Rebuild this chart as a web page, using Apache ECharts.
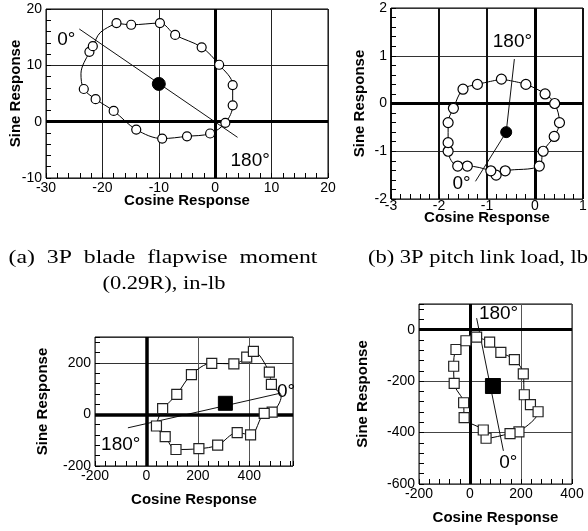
<!DOCTYPE html>
<html>
<head>
<meta charset="utf-8">
<script src="https://cdn.jsdelivr.net/npm/echarts/dist/echarts.min.js"></script>
<style>
  html, body { margin: 0; padding: 0; background: #fff; }
  #c { width: 588px; height: 531px; }
</style>
</head>
<body>
<div id="c"></div>
<script>
// Harmonic loops: each entry is [cosine, sine]; an entry with a third field 0
// only shapes the faired curve and carries no marker.

// (a) 3P blade flapwise moment (0.29R), in-lb
const flapLoop = [
  [-17.5, 17.5], [-14.9, 17.2], [-9.8, 17.5], [-7.1, 15.4], [-2.4, 13.2], [0.7, 10.1],
  [3.1, 6.5], [3.1, 2.9], [1.8, -0.2], [-0.9, -2.1], [-5.0, -2.6], [-9.4, -3.0],
  [-14.0, -1.4], [-18.0, 1.9], [-21.2, 4.0], [-23.3, 5.8], [-23.8, 8.5, 0],
  [-22.3, 12.4], [-21.7, 13.4], [-20.4, 15.8, 0]
];
const flapMean = [-10.0, 6.7];
const flapPhase = [[-24.1, 16.45], [3.96, -2.78]];
const flapXTicks = [-30, -20, -10, 0, 10, 20];
const flapYTicks = [-10, 0, 10, 20];

// (b) 3P pitch link load, lb
const pitchLoop = [
  [-0.70, 0.51], [-0.19, 0.40], [0.21, 0.20], [0.41, 0.0], [0.51, -0.40], [0.40, -0.69],
  [0.17, -1.0], [0.09, -1.31], [-0.62, -1.41], [-0.81, -1.50], [-0.92, -1.41],
  [-1.41, -1.31], [-1.61, -1.31], [-1.81, -1.0], [-1.81, -0.82], [-1.81, -0.40],
  [-1.70, -0.10], [-1.50, 0.30], [-1.20, 0.40]
];
const pitchMean = [-0.60, -0.60];
const pitchPhase = [[-0.43, 0.93], [-0.60, -0.60], [-1.24, -1.63]];
const pitchXTicks = [-3, -2, -1, 0, 1];
const pitchYTicks = [-2, -1, 0, 1, 2];

// (c) lower left loop
const lowerLeftLoop = [
  [63, 22], [118, 78], [175, 154], [254, 198], [340, 196], [390, 222], [416, 244],
  [478, 164], [486, 116], [524, 70, 0], [489, 9], [458, 4], [405, -79], [353, -71],
  [277, -119], [204, -133], [115, -136], [73, -86], [39, -45]
];
const lowerLeftMean = [307, 43];
const lowerLeftPhase = [[-72, -52], [520, 82]];
const lowerLeftXTicks = [-200, 0, 200, 400];
const lowerLeftYTicks = [-200, 0, 200];

// (d) lower right loop
const lowerRightLoop = [
  [26, -29], [77, -48], [121, -88], [174, -116], [209, -172], [213, -253], [237, -291],
  [267, -319], [192, -397], [157, -404], [63, -422], [52, -390], [-23, -342],
  [-25, -284], [-62, -209], [-64, -142], [-55, -77], [-16, -43]
];
const lowerRightMean = [90, -219];
const lowerRightPhase = [[26, 45], [131, -471]];
const lowerRightXTicks = [-200, 0, 200, 400];
const lowerRightYTicks = [-600, -400, -200, 0];

const SANS = '"Liberation Sans", Arial, sans-serif';
const SERIF = '"Liberation Serif", "Times New Roman", serif';

const panels = [
  {
    grid: { left: 46, top: 9, width: 282, height: 169 },
    x: { min: -30, max: 20, step: 10, minor: 2, ticks: flapXTicks, gap: 15, margin: 3 },
    y: { min: -10, max: 20, step: 10, minor: 2, ticks: flapYTicks, gap: 23, margin: 4 },
    xSplit: { color: '#222', width: 1 }, ySplit: { color: '#222', width: 1 },
    zeroWidth: 3,
    loop: flapLoop, mean: flapMean, phase: flapPhase,
    marker: 'circle', markerSize: 9, meanSize: 13,
    tags: [{ text: '0°', at: [-26.4, 14.5] }, { text: '180°', at: [6.2, -7.0] }]
  },
  {
    grid: { left: 391, top: 8, width: 192, height: 191 },
    x: { min: -3, max: 1, step: 1, minor: 0.2, ticks: pitchXTicks, gap: 11, margin: 0 },
    y: { min: -2, max: 2, step: 1, minor: 0.2, ticks: pitchYTicks, gap: 24, margin: 4 },
    xSplit: { color: '#111', width: 2 }, ySplit: { color: '#333', width: 1 },
    zeroWidth: 3,
    loop: pitchLoop, mean: pitchMean, phase: pitchPhase,
    marker: 'circle', markerSize: 10, meanSize: 11,
    tags: [{ text: '180°', at: [-0.47, 1.29] }, { text: '0°', at: [-1.53, -1.69] }]
  },
  {
    grid: { left: 95, top: 337, width: 198, height: 129 },
    x: { min: -200, max: 570, step: 200, minor: 40, ticks: lowerLeftXTicks, gap: 26, margin: 3 },
    y: { min: -200, max: 300, step: 200, minor: 40, ticks: lowerLeftYTicks, gap: 45, margin: 4 },
    xSplit: { color: '#555', width: 1 }, ySplit: { color: '#333', width: 1 },
    zeroWidth: 3.5,
    loop: lowerLeftLoop, mean: lowerLeftMean, phase: lowerLeftPhase,
    marker: 'rect', markerSize: 10, meanSize: 14,
    tags: [{ text: '180°', at: [-100, -116] }, { text: '0°', at: [543, 89] }]
  },
  {
    grid: { left: 419, top: 304, width: 153, height: 180 },
    x: { min: -200, max: 400, step: 200, minor: 40, ticks: lowerRightXTicks, gap: 26, margin: 3 },
    y: { min: -600, max: 100, step: 200, minor: 40, ticks: lowerRightYTicks, gap: 49, margin: 4 },
    xSplit: { color: '#555', width: 1 }, ySplit: { color: '#444', width: 1 },
    zeroWidth: 3,
    loop: lowerRightLoop, mean: lowerRightMean, phase: lowerRightPhase,
    marker: 'rect', markerSize: 10, meanSize: 15,
    tags: [{ text: '180°', at: [112, 62] }, { text: '0°', at: [150, -518] }]
  }
];

const grids = [], xAxes = [], yAxes = [], series = [];

function mainAxis(dim, gi, a, split) {
  return {
    type: 'value', gridIndex: gi, min: a.min, max: a.max, interval: a.step,
    position: dim === 'x' ? 'bottom' : 'left',
    axisLine: { show: false, onZero: false },
    axisTick: { show: false },
    splitLine: { show: true, lineStyle: { color: split.color, width: split.width } },
    axisLabel: {
      show: true, color: '#000', fontFamily: SANS, fontSize: 14,
      margin: a.margin,
      showMinLabel: true, showMaxLabel: true,
      formatter: v => (a.ticks.includes(v) ? String(v) : '')
    },
    name: dim === 'x' ? 'Cosine Response' : 'Sine Response',
    nameLocation: 'middle', nameGap: a.gap, nameMoveOverlap: false,
    nameTextStyle: { fontFamily: SANS, fontSize: 15, fontWeight: 'bold', color: '#000' }
  };
}

function minorAxis(dim, gi, a) {
  return {
    type: 'value', gridIndex: gi, min: a.min, max: a.max, interval: a.minor,
    position: dim === 'x' ? 'bottom' : 'left',
    axisLine: { show: false, onZero: false },
    axisTick: { show: true, inside: true, length: 5, lineStyle: { color: '#000', width: 1 } },
    axisLabel: { show: false },
    splitLine: { show: false }
  };
}

panels.forEach((p, gi) => {
  grids.push(Object.assign({
    show: true, borderColor: '#000', borderWidth: 1,
    backgroundColor: 'transparent', containLabel: false, outerBoundsMode: 'none'
  }, p.grid));

  const xi = xAxes.length, yi = yAxes.length;
  p.xi = xi; p.yi = yi;
  xAxes.push(mainAxis('x', gi, p.x, p.xSplit));
  xAxes.push(minorAxis('x', gi, p.x));
  yAxes.push(mainAxis('y', gi, p.y, p.ySplit));
  yAxes.push(minorAxis('y', gi, p.y));

  const curve = p.loop.map(d => [d[0], d[1]]);
  curve.push(curve[0]);
  const marks = p.loop.filter(d => d.length === 2);

  // faired curve through the loop, with the zero axes drawn heavy
  series.push({
    type: 'line', xAxisIndex: xi, yAxisIndex: yi, data: curve,
    smooth: 0.35, symbol: 'none', z: 3,
    lineStyle: { color: '#000', width: 1 },
    markLine: {
      silent: true, symbol: ['none', 'none'], label: { show: false },
      lineStyle: { color: '#000', width: p.zeroWidth, type: 'solid' },
      data: [{ xAxis: 0 }, { yAxis: 0 }]
    }
  });

  // phase line from 0° to 180° through the mean
  series.push({
    type: 'line', xAxisIndex: xi, yAxisIndex: yi, data: p.phase,
    symbol: 'none', z: 4, lineStyle: { color: '#111', width: 1 }
  });

  // measured points
  series.push({
    type: 'scatter', xAxisIndex: xi, yAxisIndex: yi, data: marks,
    symbol: p.marker, symbolSize: p.markerSize, z: 5,
    itemStyle: { color: '#fff', borderColor: p.marker === 'rect' ? '#222' : '#000', borderWidth: 1.2, opacity: 1 }
  });

  // mean value
  series.push({
    type: 'scatter', xAxisIndex: xi, yAxisIndex: yi, data: [p.mean],
    symbol: p.marker, symbolSize: p.meanSize, z: 6,
    itemStyle: { color: '#000', borderColor: '#000', borderWidth: 1, opacity: 1 }
  });
});

const titleStyle = (text) => ({
  text: text, font: '18px ' + SERIF, fill: '#000',
  textAlign: 'center', textVerticalAlign: 'middle', verticalAlign: 'middle'
});

const chart = echarts.init(document.getElementById('c'), null, { renderer: 'canvas', width: 588, height: 531 });
chart.setOption({
  animation: false,
  backgroundColor: '#fff',
  grid: grids,
  xAxis: xAxes,
  yAxis: yAxes,
  series: series,
  graphic: [
    { type: 'text', x: 163, y: 258, scaleX: 1.32, style: titleStyle('(a)  3P  blade  flapwise  moment') },
    { type: 'text', x: 164, y: 284, scaleX: 1.25, style: titleStyle('(0.29R), in-lb') },
    { type: 'text', x: 478, y: 258, scaleX: 1.25, style: titleStyle('(b) 3P pitch link load, lb') }
  ]
});

// phase tags, placed through each panel's axes
const tagGraphics = [];
panels.forEach(p => {
  p.tags.forEach(t => {
    const pt = chart.convertToPixel({ xAxisIndex: p.xi, yAxisIndex: p.yi }, t.at);
    tagGraphics.push({
      type: 'text', x: pt[0], y: pt[1], z: 100,
      style: {
        text: t.text, font: '19px ' + SANS, fill: '#000',
        textAlign: 'center', textVerticalAlign: 'middle', verticalAlign: 'middle'
      }
    });
  });
});
chart.setOption({ graphic: tagGraphics.map((g, i) => Object.assign({ id: 'tag' + i }, g)) });
</script>
</body>
</html>
